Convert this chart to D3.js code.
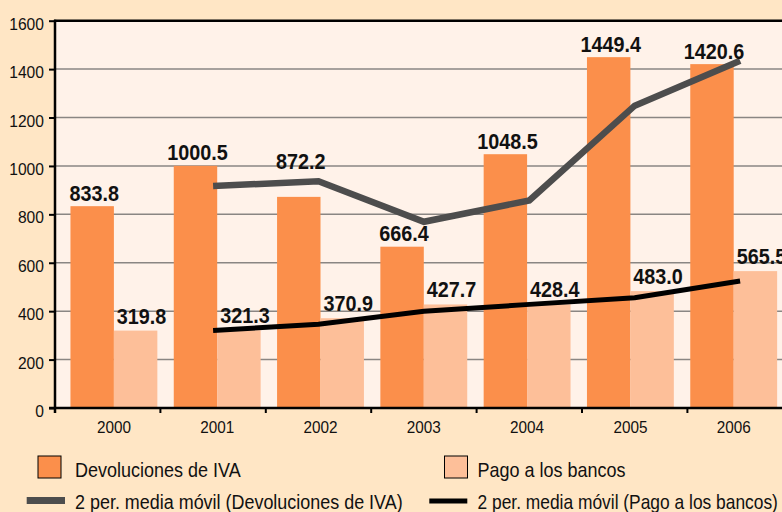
<!DOCTYPE html>
<html>
<head>
<meta charset="utf-8">
<script src="https://cdn.jsdelivr.net/npm/d3@7"></script>
<style>
  html, body { margin: 0; padding: 0; background: #FFE6C5; }
  svg { display: block; }
  text { font-family: "Liberation Sans", Arial, sans-serif; fill: #111; }
</style>
</head>
<body>
<svg id="chart" width="782" height="512"></svg>
<script>
const years = ["2000", "2001", "2002", "2003", "2004", "2005", "2006"];
const devoluciones = [833.8, 1000.5, 872.2, 666.4, 1048.5, 1449.4, 1420.6];
const pagoBancos = [319.8, 321.3, 370.9, 427.7, 428.4, 483.0, 565.5];
const mediaDevoluciones = [null, 917.2, 936.4, 769.3, 857.5, 1249.0, 1435.0];
const mediaPago = [null, 320.6, 346.1, 399.3, 428.1, 455.7, 524.3];
const yTicks = [0, 200, 400, 600, 800, 1000, 1200, 1400, 1600];
const seriesNames = ["Devoluciones de IVA", "Pago a los bancos"];
const lineNames = ["2 per. media móvil (Devoluciones de IVA)", "2 per. media móvil (Pago a los bancos)"];

const colDev = "#FB8F4B", colPago = "#FDBF99", colLineDev = "#4D4D4D", colLinePago = "#000000";
const plotBg = "#FFF2E9";

const svg = d3.select("#chart");
const W = 782, H = 512;
const pLeft = 55, pTop = 20.7, pBottom = 408, pRight = 792.8;

svg.append("rect").attr("width", W).attr("height", H).attr("fill", "#FFE6C5");

const y = d3.scaleLinear().domain([0, 1600]).range([pBottom, pTop]);
const xAxisScale = d3.scaleBand().domain(years).range([pLeft, pRight]).padding(0);
const xBars = d3.scaleBand().domain(years).range([62.25, 785.35]).paddingInner(0.159).paddingOuter(0.0795);
const xSub = d3.scaleBand().domain(["dev", "pago"]).range([0, xBars.bandwidth()]);

// plot background
svg.append("rect").attr("x", pLeft).attr("y", pTop).attr("width", pRight - pLeft).attr("height", pBottom - pTop).attr("fill", plotBg);

// gridlines
svg.append("g").selectAll("line").data(yTicks.filter(v => v > 0 && v < 1600)).join("line")
  .attr("x1", pLeft).attr("x2", pRight)
  .attr("y1", d => y(d)).attr("y2", d => y(d))
  .attr("stroke", "#8A8683").attr("stroke-width", 1.5);

// bars
const rows = years.map((yr, i) => ({ yr, dev: devoluciones[i], pago: pagoBancos[i] }));
const gBars = svg.append("g");
gBars.selectAll("rect.dev").data(rows).join("rect").attr("class", "dev")
  .attr("x", d => xBars(d.yr) + xSub("dev")).attr("width", xSub.bandwidth())
  .attr("y", d => y(d.dev)).attr("height", d => pBottom - y(d.dev)).attr("fill", colDev);
gBars.selectAll("rect.pago").data(rows).join("rect").attr("class", "pago")
  .attr("x", d => xBars(d.yr) + xSub("pago")).attr("width", xSub.bandwidth())
  .attr("y", d => y(d.pago)).attr("height", d => pBottom - y(d.pago)).attr("fill", colPago);

// moving average lines
const cx = yr => xAxisScale(yr) + xAxisScale.bandwidth() / 2;
const line = d3.line().defined(d => d.v != null).x(d => cx(d.yr)).y(d => y(d.v));
svg.append("path").datum(years.map((yr, i) => ({ yr, v: mediaDevoluciones[i] })))
  .attr("d", line).attr("fill", "none").attr("stroke", colLineDev).attr("stroke-width", 6.5);
svg.append("path").datum(years.map((yr, i) => ({ yr, v: mediaPago[i] })))
  .attr("d", line).attr("fill", "none").attr("stroke", colLinePago).attr("stroke-width", 5);

// frame: top border, left axis, bottom axis
svg.append("line").attr("x1", pLeft - 1).attr("x2", W).attr("y1", pTop).attr("y2", pTop).attr("stroke", "#000").attr("stroke-width", 2.5);
svg.append("line").attr("x1", pLeft).attr("x2", pLeft).attr("y1", pTop - 1).attr("y2", pBottom + 5).attr("stroke", "#000").attr("stroke-width", 2.5);
svg.append("line").attr("x1", pLeft - 6).attr("x2", W).attr("y1", pBottom).attr("y2", pBottom).attr("stroke", "#000").attr("stroke-width", 2.5);

// y axis
const yAxis = d3.axisLeft(y).tickValues(yTicks).tickSize(6).tickPadding(5).tickFormat(d3.format("d"));
const gy = svg.append("g").attr("transform", `translate(${pLeft},0)`).call(yAxis);
gy.select(".domain").remove();
gy.selectAll(".tick line").attr("stroke", "#000").attr("stroke-width", 2);
gy.selectAll(".tick text").remove();
gy.selectAll(".tick").append("text")
  .attr("transform", "translate(-11,0) scale(0.92,1)")
  .attr("text-anchor", "end").attr("dy", "0.5em")
  .attr("font-size", 17).text(d => d3.format("d")(d));

// x ticks at category boundaries
const boundaries = years.map(yr => xAxisScale(yr)).concat([xAxisScale(years[years.length - 1]) + xAxisScale.bandwidth()]);
svg.append("g").selectAll("line").data(boundaries).join("line")
  .attr("x1", d => d).attr("x2", d => d).attr("y1", pBottom).attr("y2", pBottom + 5)
  .attr("stroke", "#000").attr("stroke-width", 2);

// x labels
svg.append("g").selectAll("text").data(years).join("text")
  .attr("transform", d => `translate(${xBars(d) + xBars.bandwidth() / 2},432.5) scale(0.9,1)`)
  .attr("text-anchor", "middle").attr("font-size", 17).text(d => d);

// value labels (one label lifted clear of the moving-average line, as in the original)
const fmt = d3.format(".1f");
const devLift = { "2002": 22 };
const gLab = svg.append("g");
gLab.selectAll("text.dev").data(rows).join("text").attr("class", "dev")
  .attr("transform", d => `translate(${xBars(d.yr) + xSub("dev") + xSub.bandwidth() / 2 + 2},${y(d.dev) - 5.5 - (devLift[d.yr] || 0)}) scale(0.9,1)`)
  .attr("text-anchor", "middle").attr("font-size", 22).attr("font-weight", "bold").text(d => fmt(d.dev));
gLab.selectAll("text.pago").data(rows).join("text").attr("class", "pago")
  .attr("transform", d => `translate(${xBars(d.yr) + xSub("pago") + xSub.bandwidth() / 2 + 6},${y(d.pago) - 7}) scale(0.9,1)`)
  .attr("text-anchor", "middle").attr("font-size", 22).attr("font-weight", "bold").text(d => fmt(d.pago));

// legend
const lg = svg.append("g");
const swatches = [{ x: 38, fill: colDev, name: seriesNames[0], tx: 75 }, { x: 444.5, fill: colPago, name: seriesNames[1], tx: 477.5 }];
lg.selectAll("rect").data(swatches).join("rect")
  .attr("x", d => d.x).attr("y", 456).attr("width", 23).attr("height", 22)
  .attr("fill", d => d.fill).attr("stroke", "#000").attr("stroke-width", 1);
lg.selectAll("text.s").data(swatches).join("text").attr("class", "s")
  .attr("transform", d => `translate(${d.tx},477) scale(0.857,1)`)
  .attr("font-size", 21).text(d => d.name);
const lineKeys = [
  { x1: 26.7, x2: 65, y: 500.5, stroke: colLineDev, w: 7, name: lineNames[0], tx: 75, sx: 0.855 },
  { x1: 429.3, x2: 467.3, y: 501, stroke: colLinePago, w: 5, name: lineNames[1], tx: 477.5, sx: 0.828 }
];
lg.selectAll("line").data(lineKeys).join("line")
  .attr("x1", d => d.x1).attr("x2", d => d.x2).attr("y1", d => d.y).attr("y2", d => d.y)
  .attr("stroke", d => d.stroke).attr("stroke-width", d => d.w);
lg.selectAll("text.l").data(lineKeys).join("text").attr("class", "l")
  .attr("transform", d => `translate(${d.tx},509) scale(${d.sx},1)`)
  .attr("font-size", 21).text(d => d.name);
</script>
</body>
</html>
